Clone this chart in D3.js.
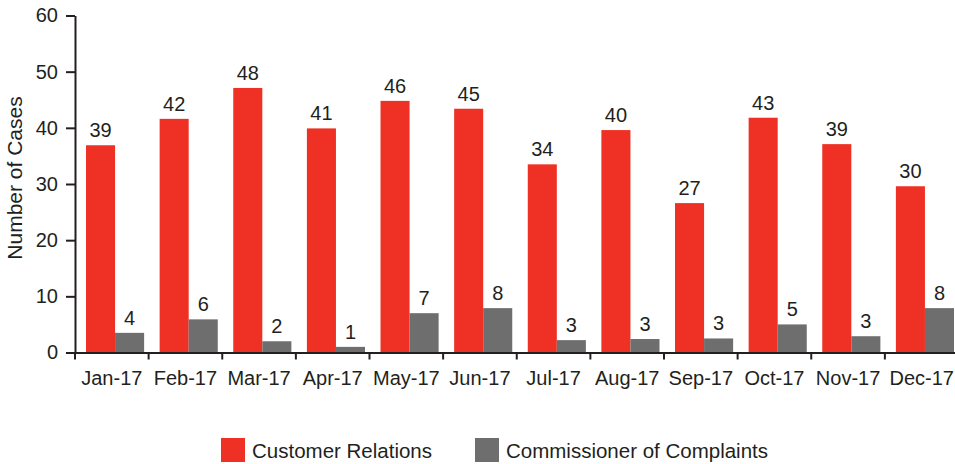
<!DOCTYPE html>
<html>
<head>
<meta charset="utf-8">
<script src="https://cdn.jsdelivr.net/npm/d3@7"></script>
<style>
  body { margin: 0; background: #fff; }
  text { font-family: "Liberation Sans", Arial, sans-serif; fill: #231f20; }
</style>
</head>
<body>
<script>
// categories and values
var months = ["Jan-17", "Feb-17", "Mar-17", "Apr-17", "May-17", "Jun-17",
              "Jul-17", "Aug-17", "Sep-17", "Oct-17", "Nov-17", "Dec-17"];
var seriesNames = ["Customer Relations", "Commissioner of Complaints"];
// bar heights as drawn in the source
var customerRelations = [36.9, 41.6, 47.1, 39.9, 44.8, 43.4, 33.5, 39.6, 26.6, 41.8, 37.1, 29.6];
var commissioner = [3.5, 5.9, 2.0, 1.0, 7.0, 7.9, 2.2, 2.4, 2.5, 5.0, 2.9, 7.9];
// printed value labels
var customerLabels = [39, 42, 48, 41, 46, 45, 34, 40, 27, 43, 39, 30];
var commissionerLabels = [4, 6, 2, 1, 7, 8, 3, 3, 3, 5, 3, 8];
var yTicks = [0, 10, 20, 30, 40, 50, 60];

var colors = ["#ee3124", "#6d6e6d"];
var fontSize = "20px";

var width = 955, height = 464;

var svg = d3.select("body")
            .append("svg")
            .attr("width", width)
            .attr("height", height);

var x = d3.scaleBand()
          .domain(months)
          .range([75, 958.5])
          .padding(0);

var x1 = d3.scaleBand()
           .domain([0, 1])
           .range([0, x.bandwidth()])
           .paddingInner(0)
           .paddingOuter(0.267)
           .align(0.71);

var y = d3.scaleLinear()
          .domain([0, 60])
          .range([352.5, 15.5]);

var rows = months.map(function(m, i) {
    return {
        month: m,
        vals: [
            {k: 0, v: customerRelations[i], label: customerLabels[i]},
            {k: 1, v: commissioner[i], label: commissionerLabels[i]}
        ]
    };
});

// bars
var groups = svg.selectAll(".grp")
   .data(rows)
   .enter().append("g")
   .attr("class", "grp")
   .attr("transform", function(d) { return "translate(" + x(d.month) + ",0)"; });

groups.selectAll("rect")
   .data(function(d) { return d.vals; })
   .enter().append("rect")
   .attr("x", function(d) { return x1(d.k); })
   .attr("width", x1.bandwidth())
   .attr("y", function(d) { return y(d.v); })
   .attr("height", function(d) { return y(0) - y(d.v); })
   .attr("fill", function(d) { return colors[d.k]; });

groups.selectAll(".val")
   .data(function(d) { return d.vals; })
   .enter().append("text")
   .attr("class", "val")
   .attr("x", function(d) { return x1(d.k) + x1.bandwidth() / 2; })
   .attr("y", function(d) { return y(d.v) - 8; })
   .attr("text-anchor", "middle")
   .style("font-size", fontSize)
   .text(function(d) { return d.label; });

// y axis
var yAxis = svg.append("g")
   .attr("transform", "translate(75,0)")
   .call(d3.axisLeft(y).tickValues(yTicks).tickSize(9).tickSizeOuter(0).tickPadding(8));
yAxis.selectAll("text").style("font-size", fontSize).style("font-family", "Liberation Sans, Arial, sans-serif").attr("fill", "#231f20");
yAxis.selectAll("line, path").attr("stroke", "#231f20").attr("stroke-width", 2);

// x axis
var xAxis = svg.append("g")
   .attr("transform", "translate(0," + y(0) + ")")
   .call(d3.axisBottom(x).tickSize(0).tickSizeOuter(0).tickPadding(18));
xAxis.select(".domain").attr("stroke", "#231f20").attr("stroke-width", 2);
xAxis.selectAll("text").style("font-size", fontSize).style("font-family", "Liberation Sans, Arial, sans-serif").attr("fill", "#231f20");

xAxis.selectAll(".sep")
   .data(months)
   .enter().append("line")
   .attr("class", "sep")
   .attr("x1", function(d) { return x(d); })
   .attr("x2", function(d) { return x(d); })
   .attr("y1", 0)
   .attr("y2", 7)
   .attr("stroke", "#231f20")
   .attr("stroke-width", 2);

// y axis title
svg.append("text")
   .attr("transform", "translate(22,178) rotate(-90)")
   .attr("text-anchor", "middle")
   .style("font-size", "21px")
   .text("Number of Cases");

// legend
var legendX = [221, 475];
var legend = svg.selectAll(".legend")
   .data(seriesNames)
   .enter().append("g")
   .attr("class", "legend")
   .attr("transform", function(d, i) { return "translate(" + legendX[i] + ",438)"; });

legend.append("rect")
   .attr("width", 24)
   .attr("height", 24)
   .attr("fill", function(d, i) { return colors[i]; });

legend.append("text")
   .attr("x", 31)
   .attr("y", 20)
   .style("font-size", "20.5px")
   .text(function(d) { return d; });
</script>
</body>
</html>
